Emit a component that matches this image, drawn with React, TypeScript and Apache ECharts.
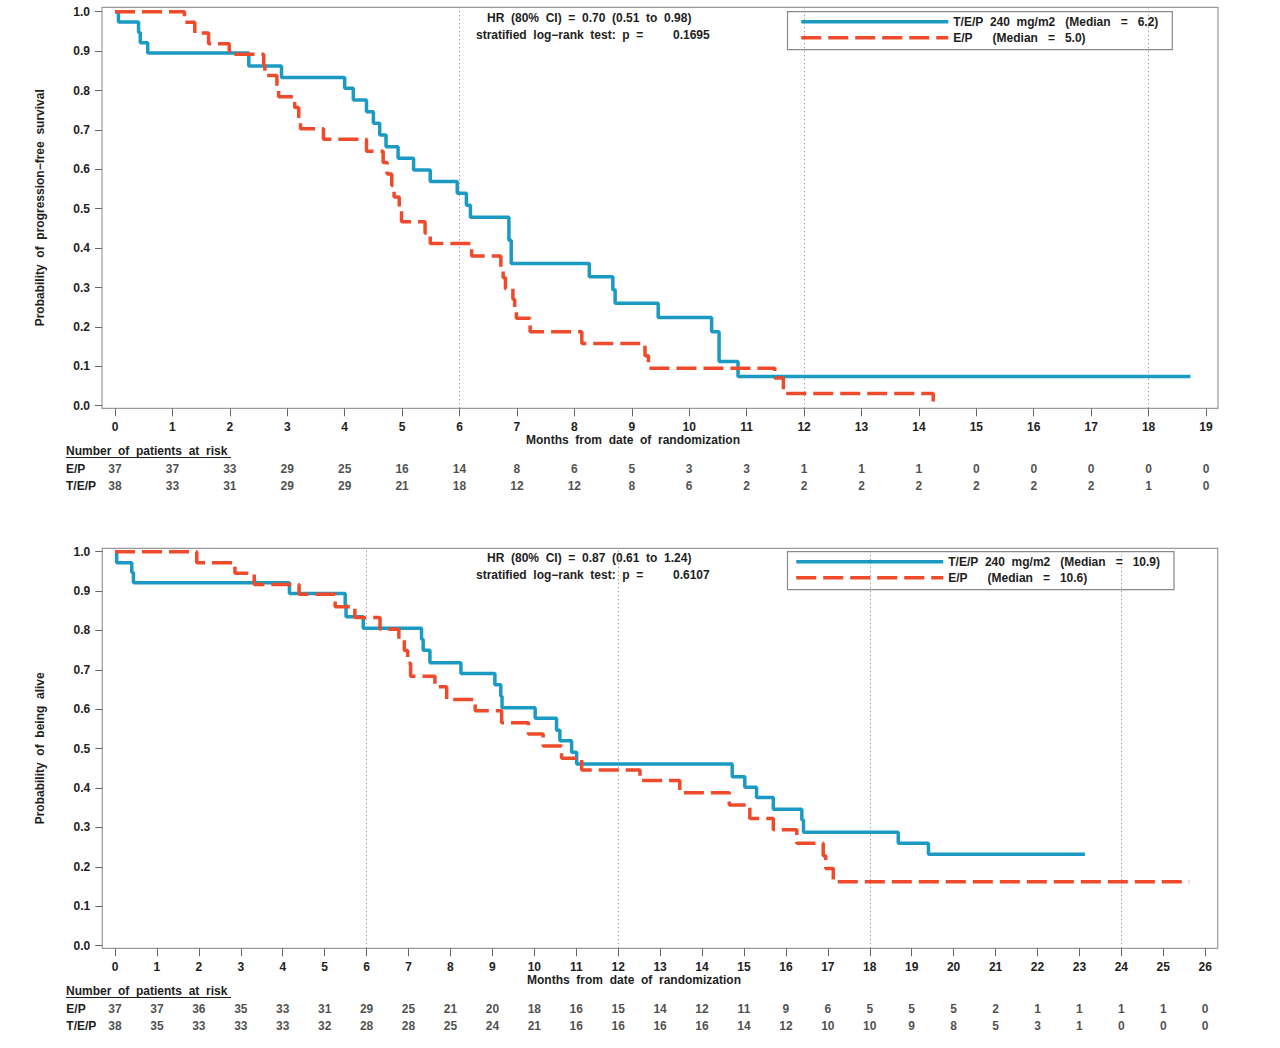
import React, { useEffect, useRef } from "react";
import * as echarts from "echarts";

// ---------- data ----------
const pfsMonths = [0, 1, 2, 3, 4, 5, 6, 7, 8, 9, 10, 11, 12, 13, 14, 15, 16, 17, 18, 19];
const osMonths = [0, 1, 2, 3, 4, 5, 6, 7, 8, 9, 10, 11, 12, 13, 14, 15, 16, 17, 18, 19, 20, 21, 22, 23, 24, 25, 26];
const yTicks = [0, 0.1, 0.2, 0.3, 0.4, 0.5, 0.6, 0.7, 0.8, 0.9, 1.0];
const pfsGridLines = [6, 12, 18];
const osGridLines = [6, 12, 18, 24];
const riskRows = ["E/P", "T/E/P"];

// Progression-free survival (top)
const pfsTEP: number[][] = [
  [0, 1], [0.06, 0.974], [0.41, 0.947], [0.44, 0.921], [0.57, 0.895], [2.33, 0.862], [2.9, 0.833],
  [4.0, 0.806], [4.15, 0.776], [4.38, 0.746], [4.5, 0.717], [4.61, 0.687], [4.72, 0.657], [4.93, 0.628],
  [5.2, 0.598], [5.49, 0.569], [5.96, 0.539], [6.12, 0.509], [6.19, 0.478], [6.86, 0.42], [6.9, 0.361],
  [8.26, 0.327], [8.67, 0.294], [8.71, 0.26], [9.46, 0.224], [10.39, 0.188], [10.52, 0.112], [10.85, 0.074],
  [18.73, 0.074],
];
const pfsEP: number[][] = [
  [0, 1], [1.21, 0.973], [1.39, 0.946], [1.63, 0.919], [1.99, 0.892], [2.59, 0.865], [2.61, 0.838],
  [2.82, 0.811], [2.85, 0.784], [3.13, 0.757], [3.2, 0.73], [3.23, 0.703], [3.63, 0.676], [4.38, 0.646],
  [4.67, 0.617], [4.74, 0.588], [4.82, 0.559], [4.86, 0.53], [4.95, 0.497], [4.99, 0.467], [5.4, 0.438],
  [5.49, 0.412], [6.21, 0.38], [6.72, 0.352], [6.76, 0.325], [6.8, 0.297], [6.93, 0.27], [6.96, 0.243],
  [6.99, 0.222], [7.23, 0.188], [8.13, 0.158], [9.23, 0.127], [9.29, 0.095], [11.49, 0.07], [11.64, 0.031],
  [14.25, 0],
];
const pfsRiskEP = [37, 37, 33, 29, 25, 16, 14, 8, 6, 5, 3, 3, 1, 1, 1, 0, 0, 0, 0, 0];
const pfsRiskTEP = [38, 33, 31, 29, 29, 21, 18, 12, 12, 8, 6, 2, 2, 2, 2, 2, 2, 2, 1, 0];

// Overall survival (bottom)
const osTEP: number[][] = [
  [0, 1], [0.04, 0.972], [0.4, 0.947], [0.44, 0.921], [4.16, 0.894], [5.49, 0.866], [5.51, 0.835],
  [5.92, 0.806], [7.31, 0.778], [7.35, 0.75], [7.51, 0.718], [8.25, 0.691], [9.06, 0.662], [9.2, 0.633],
  [9.23, 0.604], [10.02, 0.577], [10.53, 0.547], [10.61, 0.52], [10.89, 0.491], [11.01, 0.461],
  [14.72, 0.429], [15.02, 0.402], [15.3, 0.376], [15.7, 0.346], [16.38, 0.319], [16.42, 0.288],
  [18.68, 0.26], [19.4, 0.232], [23.13, 0.232],
];
const osEP: number[][] = [
  [0, 1], [1.95, 0.972], [2.86, 0.945], [3.32, 0.917], [4.39, 0.892], [5.25, 0.86], [5.72, 0.833],
  [6.32, 0.803], [6.77, 0.776], [6.9, 0.749], [6.98, 0.717], [7.05, 0.684], [7.63, 0.657], [7.91, 0.625],
  [8.59, 0.596], [9.22, 0.566], [9.86, 0.537], [10.21, 0.507], [10.65, 0.476], [11.13, 0.446],
  [12.52, 0.419], [13.47, 0.388], [14.65, 0.357], [15.14, 0.323], [15.7, 0.294], [16.26, 0.26],
  [16.89, 0.228], [16.95, 0.196], [17.13, 0.162], [25.62, 0.162],
];
const osRiskEP = [37, 37, 36, 35, 33, 31, 29, 25, 21, 20, 18, 16, 15, 14, 12, 11, 9, 6, 5, 5, 5, 2, 1, 1, 1, 1, 0];
const osRiskTEP = [38, 35, 33, 33, 33, 32, 28, 28, 25, 24, 21, 16, 16, 16, 16, 14, 12, 10, 10, 9, 8, 5, 3, 1, 0, 0, 0];

// ---------- style ----------
const FONT = "'Liberation Sans', Arial, Helvetica, sans-serif";
const INK = "#1e1e1e";
const BLUE = "#1b9ac3";
const RED = "#ee4a2b";
const BOX = "#9a9a9a";
const sp = (s: string) => s.replace(/ /g, "\u00A0 ");
const S3 = "\u00A0\u00A0 ";
const S5 = "\u00A0\u00A0 \u00A0\u00A0 ";

const pfsNameTEP = sp("T/E/P 240 mg/m2") + S3 + "(Median" + S3 + "=" + S3 + "6.2)";
const pfsNameEP = "E/P" + S5 + "(Median" + S3 + "=" + S3 + "5.0)";
const osNameTEP = sp("T/E/P 240 mg/m2") + S3 + "(Median" + S3 + "=" + S3 + "10.9)";
const osNameEP = "E/P" + S5 + "(Median" + S3 + "=" + S3 + "10.6)";

const textBase = { fontFamily: FONT, fontSize: 12, fontWeight: "bold" as const, color: INK };

function riskData(ep: number[], tep: number[], months: number[]) {
  return [
    ...ep.map((v, i) => [months[i], 0, v]),
    ...tep.map((v, i) => [months[i], 1, v]),
  ];
}

function gText(text: string, x: number, y: number, align: string = "left") {
  return {
    type: "text",
    x,
    y,
    silent: true,
    style: {
      text,
      fill: INK,
      font: `bold 12px ${FONT}`,
      textAlign: align,
      textVerticalAlign: "middle",
    },
  };
}

function mainX(grid: number, min: number, max: number, months: number[]) {
  return {
    gridIndex: grid,
    type: "value",
    min,
    max,
    axisLine: { show: false, onZero: false },
    splitLine: { show: false },
    axisTick: { show: true, customValues: months, length: 8, lineStyle: { color: "#666", width: 1 } },
    axisLabel: { show: true, customValues: months, margin: 13, ...textBase },
  };
}
function riskX(grid: number, min: number, max: number) {
  return {
    gridIndex: grid,
    type: "value",
    min,
    max,
    show: false,
    axisLine: { show: false, onZero: false },
    axisTick: { show: false },
    axisLabel: { show: false },
    splitLine: { show: false },
  };
}
function mainY(grid: number, min: number, max: number, name: string) {
  return {
    gridIndex: grid,
    type: "value",
    min,
    max,
    name,
    nameLocation: "middle",
    nameRotate: 90,
    nameGap: 56,
    nameTextStyle: { ...textBase },
    axisLine: { show: false, onZero: false },
    splitLine: { show: false },
    axisTick: { show: true, customValues: yTicks, length: 7, lineStyle: { color: "#666", width: 1 } },
    axisLabel: {
      show: true,
      customValues: yTicks,
      margin: 12,
      formatter: (v: number) => v.toFixed(1),
      ...textBase,
    },
  };
}
function riskY(grid: number) {
  return {
    gridIndex: grid,
    type: "category",
    data: riskRows,
    inverse: true,
    axisLine: { show: false, onZero: false },
    axisTick: { show: false },
    splitLine: { show: false },
    axisLabel: { show: true, align: "left", margin: 36, ...textBase },
  };
}
function kmLine(name: string, data: number[][], color: string, dashed: boolean, axis: number, gridLines?: number[]) {
  const s: any = {
    name,
    type: "line",
    xAxisIndex: axis,
    yAxisIndex: axis,
    data,
    step: "end",
    symbol: "none",
    color,
    lineStyle: { color, width: 3.5, type: dashed ? [20, 7] : "solid" },
    silent: true,
    z: dashed ? 3 : 2,
  };
  if (gridLines) {
    s.markLine = {
      silent: true,
      symbol: ["none", "none"],
      label: { show: false },
      lineStyle: { color: "#9e9e9e", width: 1, type: [1.5, 2.5] },
      data: gridLines.map((g) => ({ xAxis: g })),
      z: 1,
    };
  }
  return s;
}
function riskSeries(data: number[][], axis: number) {
  return {
    type: "scatter",
    xAxisIndex: axis,
    yAxisIndex: axis,
    data,
    symbolSize: 1,
    itemStyle: { color: "rgba(0,0,0,0)" },
    silent: true,
    label: {
      show: true,
      position: "inside",
      formatter: (p: any) => String(p.value[2]),
      ...textBase,
    },
  };
}
function legendBox(names: string[], top: number, padLeft: number) {
  return {
    data: names,
    left: 787.5,
    top,
    orient: "vertical",
    itemWidth: 147,
    itemHeight: 13,
    itemGap: 4,
    padding: [4, 14, 6, padLeft],
    borderColor: "#8a8a8a",
    borderWidth: 1.2,
    borderRadius: 0,
    backgroundColor: "transparent",
    selectedMode: false,
    itemStyle: { color: "rgba(0,0,0,0)", borderColor: "rgba(0,0,0,0)", borderWidth: 0, opacity: 0 },
    lineStyle: { width: 3.5 },
    textStyle: { ...textBase },
  };
}

// plot box geometry (pixels) -> axis extents
const PFS_X_MIN = -0.2264;
const PFS_X_MAX = 19.209;
const PFS_Y_MIN = -0.0066;
const PFS_Y_MAX = 1.0112;
const OS_X_MIN = -0.303;
const OS_X_MAX = 26.298;
const OS_Y_MIN = -0.0066;
const OS_Y_MAX = 1.0086;

export default function App() {
  const ref = useRef<HTMLDivElement>(null);
  useEffect(() => {
    if (!ref.current) return;
    const chart = echarts.init(ref.current, undefined, { renderer: "svg" });
    const option: any = {
      animation: false,
      backgroundColor: "#ffffff",
      textStyle: { fontFamily: FONT },
      grid: [
        { left: 102, top: 7.3, width: 1116, height: 401, show: true, borderColor: BOX, borderWidth: 1.2, backgroundColor: "transparent" },
        { left: 102, top: 460, width: 1116, height: 34 },
        { left: 102.3, top: 548.3, width: 1115.4, height: 400, show: true, borderColor: BOX, borderWidth: 1.2, backgroundColor: "transparent" },
        { left: 102.3, top: 1000, width: 1115.4, height: 34 },
      ],
      xAxis: [
        mainX(0, PFS_X_MIN, PFS_X_MAX, pfsMonths),
        riskX(1, PFS_X_MIN, PFS_X_MAX),
        mainX(2, OS_X_MIN, OS_X_MAX, osMonths),
        riskX(3, OS_X_MIN, OS_X_MAX),
      ],
      yAxis: [
        mainY(0, PFS_Y_MIN, PFS_Y_MAX, sp("Probability of progression−free survival")),
        riskY(1),
        mainY(2, OS_Y_MIN, OS_Y_MAX, sp("Probability of being alive")),
        riskY(3),
      ],
      legend: [
        legendBox([pfsNameTEP, pfsNameEP], 11.7, 12),
        legendBox([osNameTEP, osNameEP], 551.7, 7),
      ],
      series: [
        kmLine(pfsNameTEP, pfsTEP, BLUE, false, 0, pfsGridLines),
        kmLine(pfsNameEP, pfsEP, RED, true, 0),
        riskSeries(riskData(pfsRiskEP, pfsRiskTEP, pfsMonths), 1),
        kmLine(osNameTEP, osTEP, BLUE, false, 2, osGridLines),
        kmLine(osNameEP, osEP, RED, true, 2),
        riskSeries(riskData(osRiskEP, osRiskTEP, osMonths), 3),
      ],
      graphic: [
        gText(sp("HR (80% CI) = 0.70 (0.51 to 0.98)"), 487, 18),
        gText(sp("stratified log−rank test: p ="), 476, 35),
        gText("0.1695", 673, 35),
        gText(sp("Months from date of randomization"), 633, 440, "center"),
        gText(sp("Number of patients at risk"), 66, 451),
        { type: "line", silent: true, shape: { x1: 66, y1: 457.5, x2: 231, y2: 457.5 }, style: { stroke: INK, lineWidth: 1 } },
        gText(sp("HR (80% CI) = 0.87 (0.61 to 1.24)"), 487, 558),
        gText(sp("stratified log−rank test: p ="), 476, 575),
        gText("0.6107", 673, 575),
        gText(sp("Months from date of randomization"), 634, 980, "center"),
        gText(sp("Number of patients at risk"), 66, 991),
        { type: "line", silent: true, shape: { x1: 66, y1: 997.5, x2: 231, y2: 997.5 }, style: { stroke: INK, lineWidth: 1 } },
      ],
    };
    chart.setOption(option);
    return () => chart.dispose();
  }, []);
  return (
    <div
      ref={ref}
      style={{ position: "absolute", left: 0, top: 0, width: 1280, height: 1048, background: "#fff" }}
    />
  );
}
